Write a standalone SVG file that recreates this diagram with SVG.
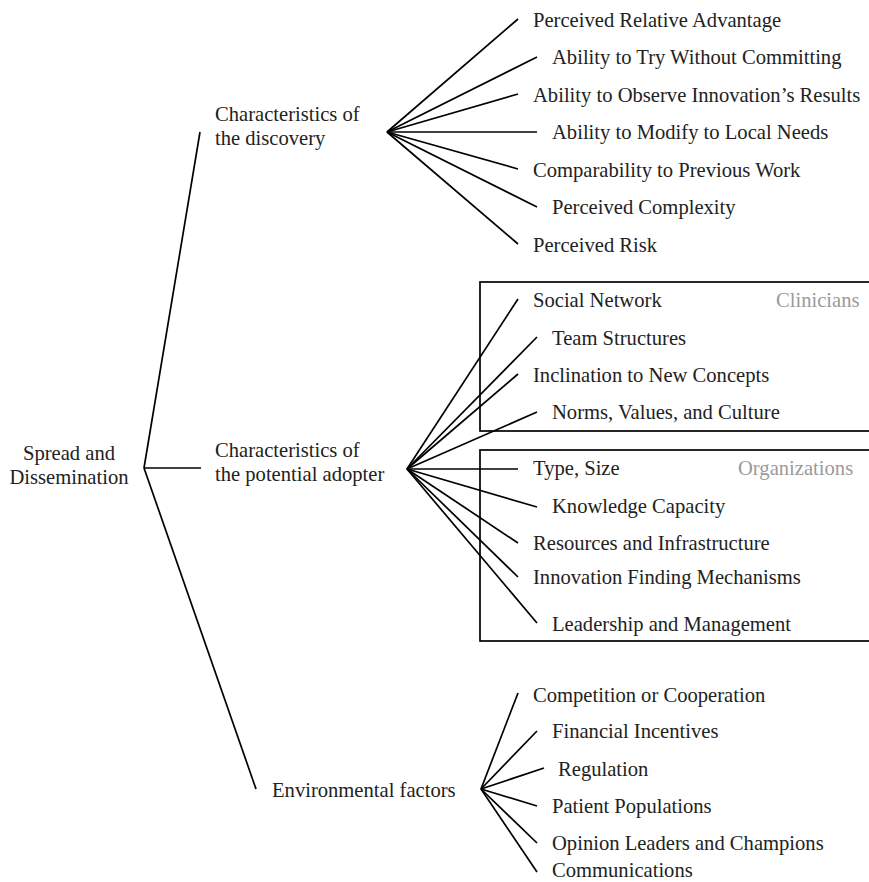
<svg xmlns="http://www.w3.org/2000/svg" width="869" height="882" viewBox="0 0 869 882">
<style>
text{font-family:"Liberation Serif","Times New Roman",serif;font-size:20.6px;fill:#222}
.g{fill:#9a9a9a}
.c line{stroke:#000;stroke-width:1.7}
.box{fill:none;stroke:#000;stroke-width:1.7}
</style>
<rect width="869" height="882" fill="#fff"/>
<g id="groups">
<rect class="box" x="480" y="282" width="400" height="149"/>
<rect class="box" x="480" y="450" width="400" height="191"/>
</g>
<g class="c" id="connectors">
<line x1="144" y1="468" x2="200" y2="132"/>
<line x1="144" y1="468" x2="201" y2="468"/>
<line x1="144" y1="468" x2="256" y2="789"/>
<line x1="387" y1="132" x2="518" y2="19"/>
<line x1="387" y1="132" x2="537" y2="57"/>
<line x1="387" y1="132" x2="518" y2="94"/>
<line x1="387" y1="132" x2="537" y2="132"/>
<line x1="387" y1="132" x2="518" y2="169"/>
<line x1="387" y1="132" x2="537" y2="207"/>
<line x1="387" y1="132" x2="518" y2="244"/>
<line x1="407" y1="469" x2="518" y2="299"/>
<line x1="407" y1="469" x2="537" y2="337"/>
<line x1="407" y1="469" x2="518" y2="374"/>
<line x1="407" y1="469" x2="537" y2="412"/>
<line x1="407" y1="469" x2="518" y2="469"/>
<line x1="407" y1="469" x2="537" y2="507"/>
<line x1="407" y1="469" x2="518" y2="543"/>
<line x1="407" y1="469" x2="518" y2="577"/>
<line x1="407" y1="469" x2="537" y2="623"/>
<line x1="481" y1="789" x2="518" y2="693"/>
<line x1="481" y1="789" x2="537" y2="731"/>
<line x1="481" y1="789" x2="544" y2="768"/>
<line x1="481" y1="789" x2="537" y2="806"/>
<line x1="481" y1="789" x2="537" y2="843"/>
<line x1="481" y1="789" x2="537" y2="872"/>
</g>
<g id="root"><text x="69" y="460" text-anchor="middle">Spread and</text><text x="69" y="484" text-anchor="middle">Dissemination</text></g>
<g id="discovery"><text x="215" y="121">Characteristics of</text><text x="215" y="145">the discovery</text></g>
<g id="adopter"><text x="215" y="457">Characteristics of</text><text x="215" y="481">the potential adopter</text></g>
<g id="environment"><text x="272" y="797">Environmental factors</text></g>
<g id="d1"><text x="533" y="27">Perceived Relative Advantage</text></g>
<g id="d2"><text x="552" y="64">Ability to Try Without Committing</text></g>
<g id="d3"><text x="533" y="102">Ability to Observe Innovation’s Results</text></g>
<g id="d4"><text x="552" y="139">Ability to Modify to Local Needs</text></g>
<g id="d5"><text x="533" y="177">Comparability to Previous Work</text></g>
<g id="d6"><text x="552" y="214">Perceived Complexity</text></g>
<g id="d7"><text x="533" y="252">Perceived Risk</text></g>
<g id="clinicians"><text class="g" x="776" y="307">Clinicians</text></g>
<g id="a1"><text x="533" y="307">Social Network</text></g>
<g id="a2"><text x="552" y="345">Team Structures</text></g>
<g id="a3"><text x="533" y="382">Inclination to New Concepts</text></g>
<g id="a4"><text x="552" y="419">Norms, Values, and Culture</text></g>
<g id="organizations"><text class="g" x="738" y="475">Organizations</text></g>
<g id="a5"><text x="533" y="475">Type, Size</text></g>
<g id="a6"><text x="552" y="513">Knowledge Capacity</text></g>
<g id="a7"><text x="533" y="550">Resources and Infrastructure</text></g>
<g id="a8"><text x="533" y="584">Innovation Finding Mechanisms</text></g>
<g id="a9"><text x="552" y="631">Leadership and Management</text></g>
<g id="e1"><text x="533" y="702">Competition or Cooperation</text></g>
<g id="e2"><text x="552" y="738">Financial Incentives</text></g>
<g id="e3"><text x="558" y="776">Regulation</text></g>
<g id="e4"><text x="552" y="813">Patient Populations</text></g>
<g id="e5"><text x="552" y="850">Opinion Leaders and Champions</text></g>
<g id="e6"><text x="552" y="877">Communications</text></g>
</svg>
